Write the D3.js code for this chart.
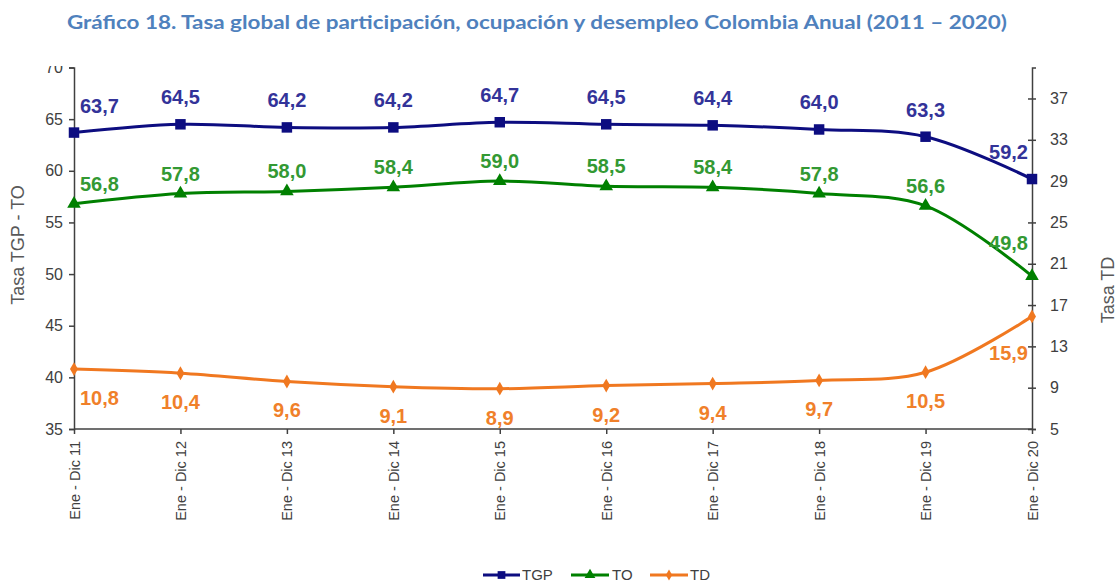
<!DOCTYPE html>
<html>
<head>
<meta charset="utf-8">
<script src="https://cdn.jsdelivr.net/npm/d3@7"></script>
<style>
  html, body { margin: 0; padding: 0; background: #fff; }
  svg { display: block; }
</style>
</head>
<body>
<svg id="chart" width="1118" height="584"></svg>
<script>
const categories = ["Ene - Dic 11","Ene - Dic 12","Ene - Dic 13","Ene - Dic 14","Ene - Dic 15","Ene - Dic 16","Ene - Dic 17","Ene - Dic 18","Ene - Dic 19","Ene - Dic 20"];
const tgp = [63.7, 64.5, 64.2, 64.2, 64.7, 64.5, 64.4, 64.0, 63.3, 59.2];
const to  = [56.8, 57.8, 58.0, 58.4, 59.0, 58.5, 58.4, 57.8, 56.6, 49.8];
const td  = [10.8, 10.4, 9.6, 9.1, 8.9, 9.2, 9.4, 9.7, 10.5, 15.9];
const leftTicks = [35, 40, 45, 50, 55, 60, 65, 70];
const rightTicks = [5, 9, 13, 17, 21, 25, 29, 33, 37];
const titleText = "Gráfico 18. Tasa global de participación, ocupación y desempleo Colombia Anual (2011 – 2020)";

const svg = d3.select("#chart");
const pLeft = 74, pRight = 1032, pTop = 67.5, pBottom = 429;

const x = d3.scalePoint().domain(categories).range([pLeft, pRight]);
const yL = d3.scaleLinear().domain([35, 70]).range([pBottom, pTop]);
const yR = d3.scaleLinear().domain([5, 40]).range([pBottom, pTop]);

const axisColor = "#404040";
const font = "Arial, 'Liberation Sans', sans-serif";

// title
svg.append("text")
  .attr("x", 537).attr("y", 29)
  .attr("text-anchor", "middle")
  .attr("font-family", "Lato, 'Open Sans', sans-serif")
  .attr("font-weight", "bold")
  .attr("font-size", 18.5)
  .attr("fill", "#4F81BD")
  .attr("textLength", 940)
  .attr("lengthAdjust", "spacingAndGlyphs")
  .text(titleText);

// clip for top cut
svg.append("defs").append("clipPath").attr("id", "cut")
  .append("rect").attr("x", -200).attr("y", 66).attr("width", 1400).attr("height", 520);

// left axis
const gL = svg.append("g").attr("transform", `translate(${pLeft},0)`).attr("clip-path", "url(#cut)");
gL.call(d3.axisLeft(yL).tickValues(leftTicks).tickSize(5).tickPadding(6).tickFormat(d3.format("d")));
gL.select(".domain").attr("stroke", axisColor).attr("stroke-width", 1.5);
gL.selectAll(".tick line").attr("stroke", axisColor).attr("stroke-width", 1.5);
gL.selectAll(".tick text").attr("font-family", font).attr("font-size", 16).attr("fill", axisColor);

// right axis
const gR = svg.append("g").attr("transform", `translate(${pRight},0)`);
gR.call(d3.axisRight(yR).tickValues(rightTicks).tickSize(4).tickPadding(14).tickFormat(d3.format("d")));
gR.select(".domain").attr("stroke", axisColor).attr("stroke-width", 1.5);
gR.selectAll(".tick line").attr("stroke", axisColor).attr("stroke-width", 1.5).attr("x1", -4);
gR.selectAll(".tick text").attr("font-family", font).attr("font-size", 16).attr("fill", axisColor);

// x axis
const gX = svg.append("g").attr("transform", `translate(0,${pBottom})`);
gX.call(d3.axisBottom(x).tickSize(5).tickPadding(8));
gX.select(".domain").attr("stroke", axisColor).attr("stroke-width", 1.5).attr("d", `M${pLeft},0H${pRight}`);
gX.selectAll(".tick line").attr("stroke", axisColor).attr("stroke-width", 1.5);
gX.selectAll(".tick text")
  .attr("font-family", font).attr("font-size", 14.5).attr("fill", axisColor)
  .attr("text-anchor", "end")
  .attr("transform", "rotate(-90)")
  .attr("x", -12).attr("y", 0).attr("dy", "0.35em");

// axis titles
svg.append("text")
  .attr("transform", "translate(24,245) rotate(-90)")
  .attr("text-anchor", "middle")
  .attr("font-family", font).attr("font-size", 18).attr("fill", "#595959")
  .text("Tasa TGP - TO");
svg.append("text")
  .attr("transform", "translate(1114,290) rotate(-90)")
  .attr("text-anchor", "middle")
  .attr("font-family", font).attr("font-size", 18).attr("fill", "#595959")
  .text("Tasa TD");

const series = [
  { name: "TGP", values: tgp, scale: yL, color: "#0D0D80", label: "#333399", marker: "square", dy: -20, lastDy: -20 },
  { name: "TO", values: to, scale: yL, color: "#008000", label: "#339933", marker: "triangle", dy: -13, lastDy: -26 },
  { name: "TD", values: td, scale: yR, color: "#F07820", label: "#F0802A", marker: "diamond", dy: 36, lastDy: 44 }
];

const symbolOf = {
  square: d3.symbol().type(d3.symbolSquare).size(110),
  triangle: d3.symbol().type(d3.symbolTriangle).size(80),
  diamond: d3.symbol().type(d3.symbolDiamond).size(55)
};

const fmt = v => v.toFixed(1).replace(".", ",");

series.forEach(s => {
  const line = d3.line()
    .x((d, i) => x(categories[i]))
    .y(d => s.scale(d))
    .curve(d3.curveCatmullRom.alpha(0.5));
  svg.append("path")
    .datum(s.values)
    .attr("d", line)
    .attr("fill", "none")
    .attr("stroke", s.color)
    .attr("stroke-width", 3)
    .attr("stroke-linejoin", "round");
  svg.append("g").selectAll("path")
    .data(s.values)
    .join("path")
    .attr("d", symbolOf[s.marker])
    .attr("transform", (d, i) => `translate(${x(categories[i])},${s.scale(d)})`)
    .attr("fill", s.color);
  const n = s.values.length;
  svg.append("g").selectAll("text")
    .data(s.values)
    .join("text")
    .attr("x", (d, i) => x(categories[i]) + (i === 0 ? 6 : i === n - 1 ? -4 : 0))
    .attr("y", (d, i) => s.scale(d) + (i === n - 1 ? s.lastDy : s.dy))
    .attr("text-anchor", (d, i) => i === 0 ? "start" : i === n - 1 ? "end" : "middle")
    .attr("font-family", font)
    .attr("font-weight", "bold")
    .attr("font-size", 20)
    .attr("fill", s.label)
    .text(d => fmt(d));
});

// legend
const legend = svg.append("g").attr("transform", "translate(0,575)");
const legItems = [
  { s: series[0], x0: 483, x1: 520, tx: 522 },
  { s: series[1], x0: 571, x1: 609, tx: 612 },
  { s: series[2], x0: 650, x1: 688, tx: 690 }
];
legItems.forEach(it => {
  legend.append("line").attr("x1", it.x0).attr("x2", it.x1).attr("y1", 0).attr("y2", 0)
    .attr("stroke", it.s.color).attr("stroke-width", 3);
  legend.append("path").attr("d", d3.symbol().type(
      it.s.marker === "square" ? d3.symbolSquare : it.s.marker === "triangle" ? d3.symbolTriangle : d3.symbolDiamond
    ).size(it.s.marker === "square" ? 60 : it.s.marker === "triangle" ? 50 : 35))
    .attr("transform", `translate(${(it.x0 + it.x1) / 2},0)`)
    .attr("fill", it.s.color);
  legend.append("text").attr("x", it.tx).attr("y", 0).attr("dy", "0.35em")
    .attr("font-family", font).attr("font-size", 15).attr("fill", axisColor)
    .text(it.s.name);
});
</script>
</body>
</html>
